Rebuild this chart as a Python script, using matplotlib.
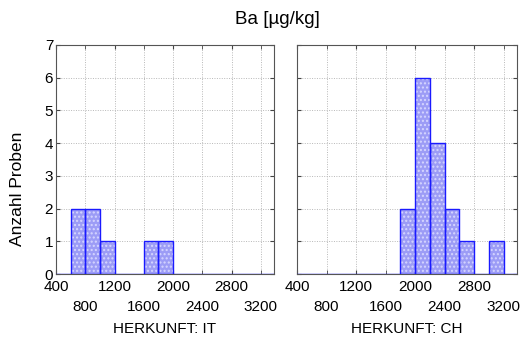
import matplotlib
matplotlib.use("Agg")
import matplotlib.pyplot as plt
from matplotlib.ticker import FixedLocator

plt.rcParams['font.family'] = ['Liberation Sans', 'DejaVu Sans']

# Histogram bins (left edges, width 200 µg/kg) and counts per origin
bin_lefts = [400, 600, 800, 1000, 1200, 1400, 1600, 1800, 2000, 2200, 2400, 2600, 2800, 3000, 3200]
bin_width = 200
counts_it = [0, 2, 2, 1, 0, 0, 1, 1, 0, 0, 0, 0, 0, 0, 0]
counts_ch = [0, 0, 0, 0, 0, 0, 0, 2, 6, 4, 2, 1, 0, 1, 0]
panels = ["HERKUNFT: IT", "HERKUNFT: CH"]
xticks_row1 = [400, 1200, 2000, 2800]
xticks_row2 = [800, 1600, 2400, 3200]
title = "Ba [µg/kg]"

fig = plt.figure(figsize=(5.28, 3.4), dpi=100)
ax_l = fig.add_axes([56/528, 66/340, 218/528, 229/340])
ax_r = fig.add_axes([297/528, 66/340, 220/528, 229/340])

for ax, counts, lab, show_y in [(ax_l, counts_it, panels[0], True),
                                (ax_r, counts_ch, panels[1], False)]:
    # dotted fill, then a crisp blue outline on top
    ax.bar(bin_lefts, counts, width=bin_width, align='edge',
           facecolor='#9c9cf6', edgecolor='#d6d6ff', linewidth=0,
           hatch='....', zorder=3)
    ax.bar(bin_lefts, counts, width=bin_width, align='edge',
           facecolor='none', edgecolor='#1a1aff', linewidth=1.0, zorder=4)
    ax.set_xlim(400, 3380)
    ax.set_ylim(0, 7)
    # alternating tick labels on two rows
    ax.xaxis.set_major_locator(FixedLocator(xticks_row1))
    ax.xaxis.set_minor_locator(FixedLocator(xticks_row2))
    ax.set_xticklabels([str(v) for v in xticks_row1])
    ax.set_xticklabels([str(v) for v in xticks_row2], minor=True)
    ax.set_yticks(range(8))
    if show_y:
        ax.set_yticklabels([str(v) for v in range(8)])
        ax.set_ylabel("Anzahl Proben", fontsize=12.5)
        ax.yaxis.set_label_coords(-0.142, 0.37)
    else:
        ax.set_yticklabels([])
    ax.tick_params(which='both', direction='in', length=3, top=True, right=True,
                   color='#444444', labelsize=11)
    ax.tick_params(axis='x', which='major', pad=4)
    ax.tick_params(axis='x', which='minor', pad=19)
    ax.tick_params(axis='y', pad=2)
    ax.grid(True, which='both', linestyle=(0, (1, 1.5)), color='#b8b8b8',
            linewidth=0.7, zorder=0)
    ax.set_xlabel(lab, fontsize=11)
    ax.xaxis.set_label_coords(0.5, -0.24)
    ax.xaxis.label.set_va('center')
    for s in ax.spines.values():
        s.set_color('#555555')
        s.set_linewidth(0.8)

fig.text(277/528, 1 - 20/340, title, ha='center', va='center', fontsize=13.5)

fig.savefig("out.png", dpi=100)
